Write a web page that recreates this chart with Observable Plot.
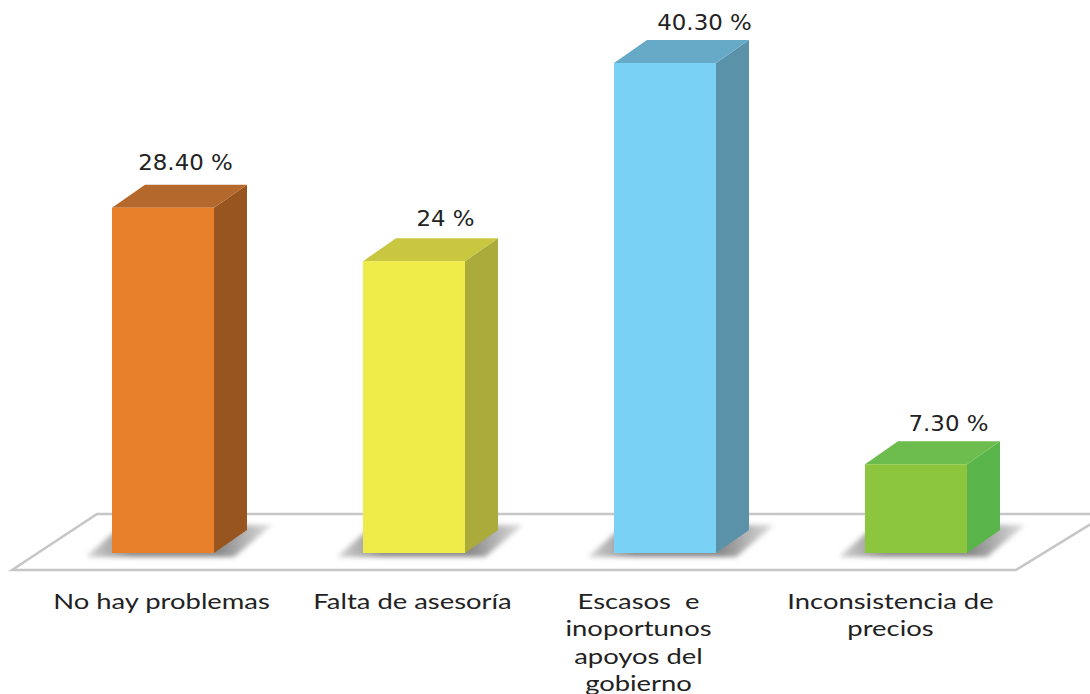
<!DOCTYPE html>
<html>
<head>
<meta charset="utf-8">
<script src="https://cdn.jsdelivr.net/npm/d3@7"></script>
<script src="https://cdn.jsdelivr.net/npm/@observablehq/plot@0.6"></script>
<style>
html,body{margin:0;padding:0;background:#fff}
svg{display:block}
</style>
</head>
<body>
<div id="chart"></div>
<script>
const categories = ["No hay problemas", "Falta de asesoría", "Escasos  e\ninoportunos\napoyos del\ngobierno", "Inconsistencia de\nprecios"];
const values = [28.4, 24, 40.3, 7.3];
const valueLabels = ["28.40 %", "24 %", "40.30 %", "7.30 %"];
const frontColors = ["#E87F2B", "#EFEB48", "#79D2F5", "#8CC63F"];
const topColors = ["#B5682B", "#C8C73F", "#66AAC7", "#6DBD4E"];
const sideColors = ["#98551F", "#AAAB3A", "#5A92AA", "#59B54A"];

// styling offsets (pixels)
const depthX = 33, depthY = 23;
const valueNudgeX = [22, 31, 39, 32];
const valueNudgeY = [-45, -42, -40, -40];
const catNudgeX = [-2, -2, -27, -26];

const table = categories.map((c, i) => ({c, v: values[i], label: valueLabels[i], front: frontColors[i], top: topColors[i], side: sideColors[i], i}));
const NS = "http://www.w3.org/2000/svg";
function poly(g, pts, fill, extra = {}) {
  const p = document.createElementNS(NS, "polygon");
  p.setAttribute("points", pts.map(q => q.join(",")).join(" "));
  p.setAttribute("fill", fill);
  for (const k in extra) p.setAttribute(k, extra[k]);
  g.appendChild(p);
  return p;
}

function scene(index, scales) {
  const g = document.createElementNS(NS, "g");
  const x = scales.x, y = scales.y, y0 = y(0);
  const w = typeof x.bandwidth === "function" ? x.bandwidth() : x.bandwidth;
  const left = x(categories[0]), right = x(categories[3]) + w;

  // floor
  poly(g, [[left - 100, y0 + 17], [left - 15, y0 - 39], [right + 140, y0 - 39], [right + 49, y0 + 17]], "#fff",
    {stroke: "#c6c6c6", "stroke-width": 2.6, "stroke-linejoin": "miter"});

  // shadow defs
  const defs = document.createElementNS(NS, "defs");
  defs.innerHTML = `<filter id="sblur" x="-20%" y="-30%" width="140%" height="160%"><feGaussianBlur stdDeviation="2.8"/></filter>
  <linearGradient id="sgrad" x1="0" x2="1" y1="0" y2="0">
    <stop offset="0" stop-color="#d4d4d4"/><stop offset="0.25" stop-color="#8c8c8c"/>
    <stop offset="0.72" stop-color="#8c8c8c"/><stop offset="1" stop-color="#e0e0e0"/></linearGradient>`;
  g.appendChild(defs);

  for (const i of index) {
    const d = table[i], a = x(d.c), b = a + w, t = y(d.v);
    // shadow
    poly(g, [[a - 26, y0 + 4], [a + 10, y0 - 28], [b + 58, y0 - 28], [b + 20, y0 + 4]], "url(#sgrad)", {filter: "url(#sblur)"});
    // side and top faces
    poly(g, [[b, t], [b + depthX, t - depthY], [b + depthX, y0 - depthY], [b, y0]], d.side);
    poly(g, [[a, t], [a + depthX, t - depthY], [b + depthX, t - depthY], [b, t]], d.top);
  }
  return g;
}

const plot = Plot.plot({
  width: 1090,
  height: 694,
  margin: 0,
  style: {background: "#fff"},
  x: {domain: categories, range: [0, 1079], paddingInner: 0.594, paddingOuter: 0.446, axis: null},
  y: {domain: [0, 40.3], range: [553, 63], axis: null},
  color: {type: "identity"},
  marks: [
    Plot.barY(table, {x: "c", y1: 0, y2: "v", render: scene}),
    Plot.barY(table, {x: "c", y1: 0, y2: "v", fill: "front"}),
    ...table.map((d, i) => Plot.text([d], {
      x: "c", y: "v", text: "label", dx: valueNudgeX[i], dy: valueNudgeY[i],
      fontFamily: "DejaVu Sans", fontSize: 21, fill: "#222"
    })),
    ...table.map((d, i) => Plot.text([d], {
      x: "c", y: () => 0, text: "c", dx: catNudgeX[i], dy: 35.5, lineAnchor: "top", lineHeight: 1.31,
      fontFamily: "Lato", fontSize: 21, fill: "#222", textAnchor: "middle"
    }))
  ]
});
// the reference's lettering is stretched horizontally
plot.querySelectorAll('g[font-family="Lato"] text').forEach(t => t.setAttribute("transform", t.getAttribute("transform") + " scale(1.305,1)"));
plot.querySelectorAll('g[font-family="DejaVu Sans"] text').forEach(t => t.setAttribute("transform", t.getAttribute("transform") + " scale(1.09,1)"));
document.getElementById("chart").appendChild(plot);
</script>
</body>
</html>
